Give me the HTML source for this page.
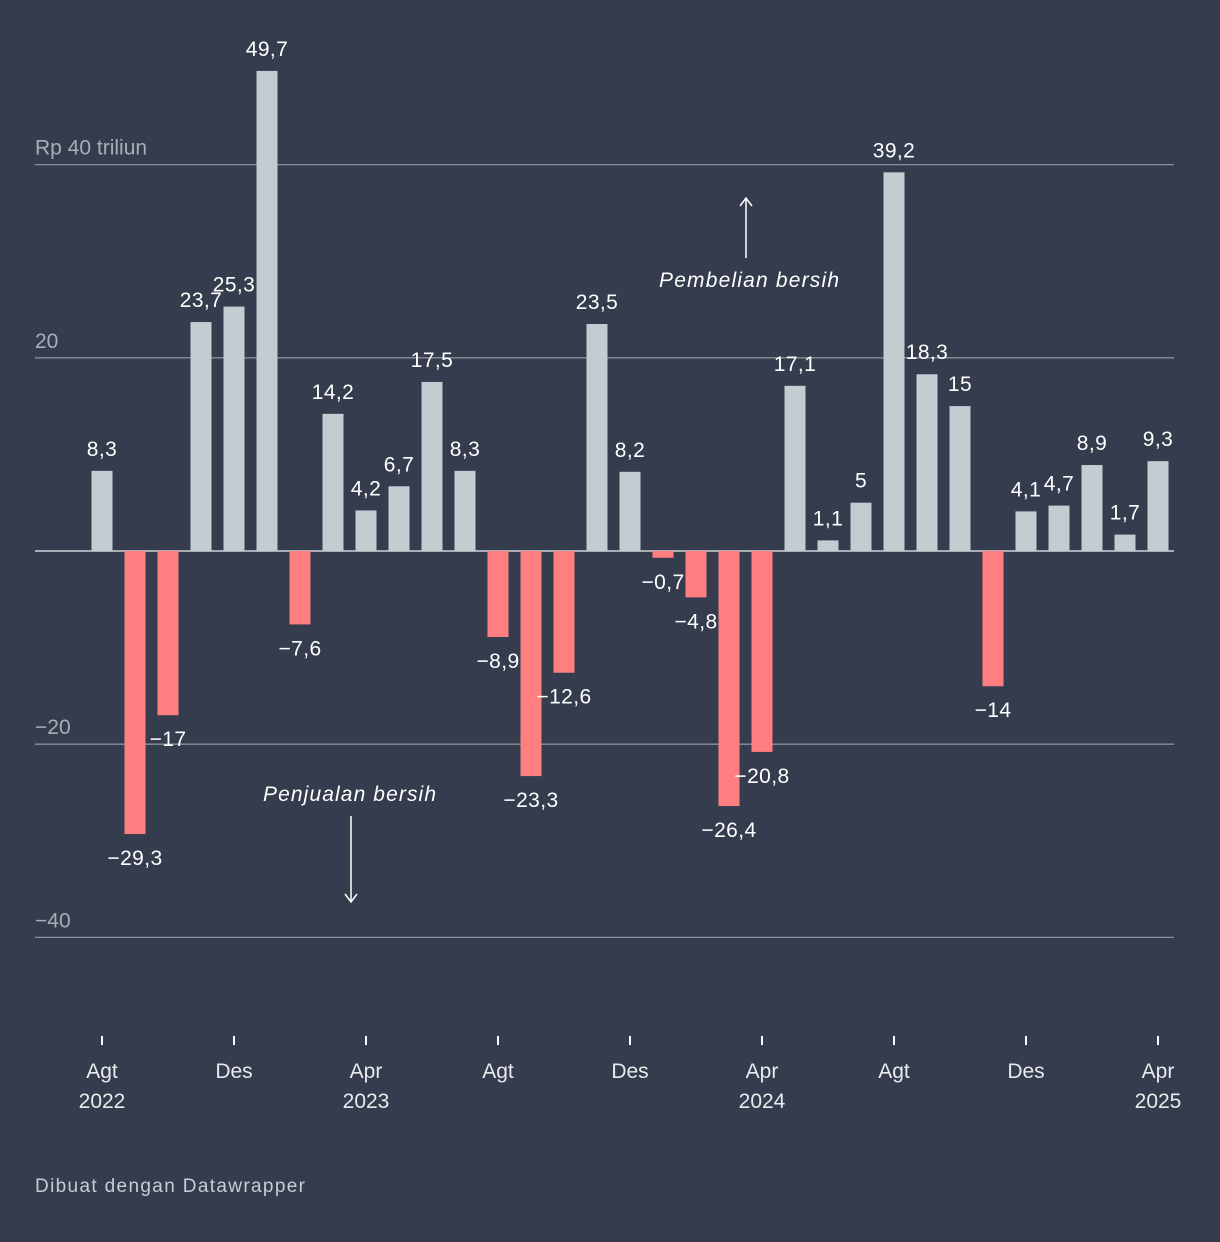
<!DOCTYPE html>
<html><head><meta charset="utf-8">
<style>
html,body{margin:0;padding:0;background:#343c4d;}
svg{display:block;font-family:"Liberation Sans",Roboto,sans-serif;}
</style></head>
<body>
<svg id="chart" width="1220" height="1242" viewBox="0 0 1220 1242">
<rect width="1220" height="1242" fill="#343c4d"/>
<g id="grid"></g>
<g id="bars"></g>
<g id="labels"></g>
<g id="xaxis"></g>
<text x="659" y="287" fill="#ffffff" font-size="21" font-style="italic" textLength="180">Pembelian bersih</text>
<line x1="746" y1="258" x2="746" y2="199" stroke="#fff" stroke-width="1.5"/>
<path d="M740 206 L746 198 L752 206" fill="none" stroke="#fff" stroke-width="1.5"/>
<text x="263" y="801" fill="#ffffff" font-size="21" font-style="italic" textLength="173">Penjualan bersih</text>
<line x1="351" y1="816" x2="351" y2="901" stroke="#fff" stroke-width="1.5"/>
<path d="M345 894 L351 902 L357 894" fill="none" stroke="#fff" stroke-width="1.5"/>
<text x="35" y="1192" fill="#c8cdd4" font-size="19" textLength="270">Dibuat dengan Datawrapper</text>
</svg>
<script>
const values = [8.3,-29.3,-17,23.7,25.3,49.7,-7.6,14.2,4.2,6.7,17.5,8.3,-8.9,-23.3,-12.6,23.5,8.2,-0.7,-4.8,-26.4,-20.8,17.1,1.1,5,39.2,18.3,15,-14,4.1,4.7,8.9,1.7,9.3];
const valueLabels = ["8,3","\u221229,3","\u221217","23,7","25,3","49,7","\u22127,6","14,2","4,2","6,7","17,5","8,3","\u22128,9","\u221223,3","\u221212,6","23,5","8,2","\u22120,7","\u22124,8","\u221226,4","\u221220,8","17,1","1,1","5","39,2","18,3","15","\u221214","4,1","4,7","8,9","1,7","9,3"];
const yTicks = [40,20,-20,-40];
const yTickLabels = ["Rp 40 triliun","20","\u221220","\u221240"];
const xTickIndex = [0,4,8,12,16,20,24,28,32];
const xTickLine1 = ["Agt","Des","Apr","Agt","Des","Apr","Agt","Des","Apr"];
const xTickLine2 = ["2022","","2023","","","2024","","","2025"];

const NS="http://www.w3.org/2000/svg";
const y = v => 551 - v*9.66;
const x = i => 102 + i*33;
const bw = 21;
function mk(tag, attrs, parent){const e=document.createElementNS(NS,tag);for(const k in attrs)e.setAttribute(k,attrs[k]);document.getElementById(parent).appendChild(e);return e;}

yTicks.forEach((t,i)=>{
  const l=mk('line',{x1:35,x2:1174,y1:y(t),y2:y(t),stroke:'#8a909b','stroke-width':1.3},'grid');
  
  
  const tx=mk('text',{x:35,y:y(t)-10,fill:'#a9aeb6','font-size':21},'grid');
  tx.textContent=yTickLabels[i];
  
  
});
values.forEach((v,i)=>{
  const top=Math.min(y(v),y(0)), h=Math.abs(y(v)-y(0));
  const r=mk('rect',{x:x(i)-bw/2,y:top,width:bw,height:Math.max(h,1),fill:v>=0?'#c2cdd1':'#ff7f80'},'bars');
  
  
  const t=mk('text',{x:x(i),y:v>=0?y(v)-15:y(v)+31,fill:'#ffffff','font-size':21,'text-anchor':'middle','letter-spacing':0.4},'labels');
  t.textContent=valueLabels[i];
  
  
});
const zl=mk('line',{x1:35,x2:1174,y1:y(0),y2:y(0),stroke:'#d0d4d9','stroke-width':1.5},'grid');


xTickIndex.forEach((idx,i)=>{
  const l=mk('line',{x1:x(idx),x2:x(idx),y1:1036,y2:1045,stroke:'#ffffff','stroke-width':2},'xaxis');
  
  
  const t=mk('text',{x:x(idx),y:1078,fill:'#e8eaed','font-size':21,'text-anchor':'middle'},'xaxis');
  t.textContent=xTickLine1[i];
  
  
  if(xTickLine2[i]){
    const t2=mk('text',{x:x(idx),y:1108,fill:'#e8eaed','font-size':21,'text-anchor':'middle'},'xaxis');
    t2.textContent=xTickLine2[i];
    
    
  }
});
</script>
</body></html>
